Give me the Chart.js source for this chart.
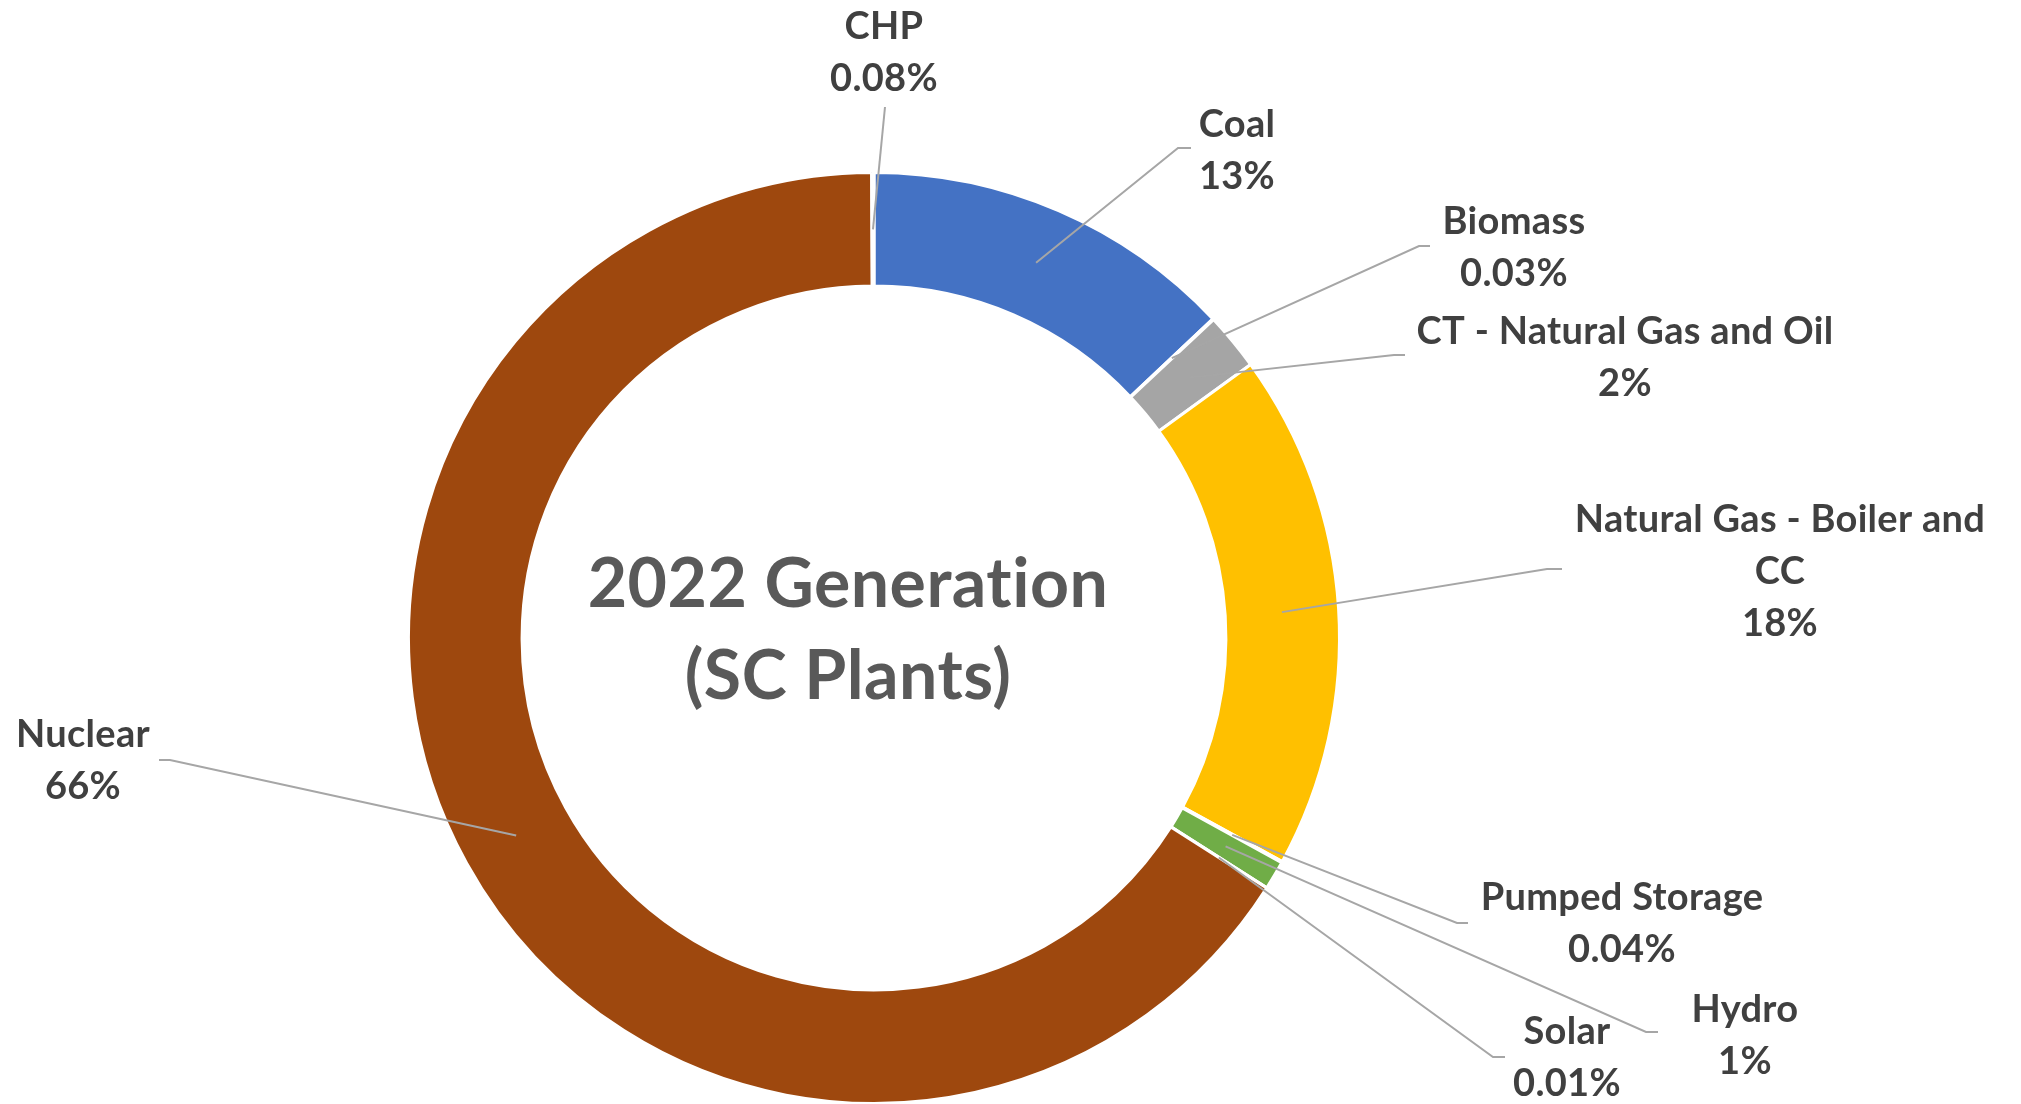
<!DOCTYPE html>
<html>
<head>
<meta charset="utf-8">
<script src="https://cdn.jsdelivr.net/npm/chart.js@4.4.0/dist/chart.umd.min.js"></script>
<style>
  html, body { margin: 0; padding: 0; background: #fff; }
  #wrap { width: 2021px; height: 1104px; position: relative; }
</style>
</head>
<body>
<div id="wrap"><canvas id="genChart"></canvas></div>
<script>
// slice order follows the workbook; CHP is the last sliver just left of 12 o'clock
const categories = ["Coal", "Biomass", "CT - Natural Gas and Oil", "Natural Gas - Boiler and CC",
  "Pumped Storage", "Hydro", "Solar", "Nuclear", "CHP"];
const shares = [13, 0.03, 2, 18, 0.04, 1, 0.01, 66, 0.08];
const sliceColors = ["#4472C4", "#ED7D31", "#A5A5A5", "#FFC000", "#5B9BD5", "#70AD47", "#264478", "#9E480E", "#636363"];
const titleLines = ["2022 Generation", "(SC Plants)"];

// label placement: x/y = centre of first text line, hook = where the leader meets the label,
// elbow = short horizontal stub before the slanted part
const labelLayout = [
  { x: 1237, y: 125, hook: [1191, 148], elbow: [1178, 148] },
  { x: 1514, y: 222, hook: [1430, 246], elbow: [1419, 246] },
  { x: 1625, y: 332, hook: [1405, 355], elbow: [1394, 355] },
  { x: 1780, y: 520, hook: [1562, 569], elbow: [1547, 569], wrap: 440 },
  { x: 1622, y: 898, hook: [1468, 923], elbow: [1457, 923] },
  { x: 1745, y: 1010, hook: [1658, 1032], elbow: [1646, 1032] },
  { x: 1567, y: 1032, hook: [1505, 1057], elbow: [1493, 1057] },
  { x: 83, y: 735, hook: [159, 760], elbow: [170, 760] },
  { x: 884, y: 27, hook: [885, 107] }
];

const FONT = "Lato, 'Open Sans', sans-serif";
const LINE_H = 52;

function pctText(v, total) {
  const p = v / total * 100;
  return (p >= 0.5 ? Math.round(p) : p.toFixed(2)) + "%";
}

function wrapText(ctx, text, maxW) {
  if (!maxW) return [text];
  const words = text.split(" ");
  const lines = [];
  let cur = "";
  words.forEach(w => {
    const test = cur ? cur + " " + w : w;
    if (cur && ctx.measureText(test).width > maxW) {
      lines.push(cur);
      cur = w;
    } else {
      cur = test;
    }
  });
  if (cur) lines.push(cur);
  return lines;
}

const sliceLabels = {
  id: "sliceLabels",
  afterDatasetsDraw(chart) {
    const ctx = chart.ctx;
    const arcs = chart.getDatasetMeta(0).data;
    const total = shares.reduce((a, b) => a + b, 0);
    ctx.save();

    // leader lines
    ctx.strokeStyle = "#A6A6A6";
    ctx.lineWidth = 2;
    arcs.forEach((arc, i) => {
      const p = arc.getProps(["x", "y", "startAngle", "endAngle", "innerRadius", "outerRadius"], true);
      const mid = (p.startAngle + p.endAngle) / 2;
      const r = (p.innerRadius + p.outerRadius) / 2;
      const lay = labelLayout[i];
      ctx.beginPath();
      ctx.moveTo(p.x + Math.cos(mid) * r, p.y + Math.sin(mid) * r);
      if (lay.elbow) ctx.lineTo(lay.elbow[0], lay.elbow[1]);
      ctx.lineTo(lay.hook[0], lay.hook[1]);
      ctx.stroke();
    });

    // data labels
    ctx.fillStyle = "#404040";
    ctx.font = "bold 38px " + FONT;
    ctx.letterSpacing = "0.3px"; // also stops the "ti" ligature
    ctx.textAlign = "center";
    ctx.textBaseline = "middle";
    categories.forEach((name, i) => {
      const lay = labelLayout[i];
      const lines = wrapText(ctx, name, lay.wrap).concat(pctText(shares[i], total));
      lines.forEach((t, k) => ctx.fillText(t, lay.x, lay.y + k * LINE_H));
    });

    // title in the hole
    ctx.fillStyle = "#595959";
    ctx.font = "bold 68px " + FONT;
    ctx.letterSpacing = "0.5px";
    const cx = arcs[0].x - 26;
    ctx.fillText(titleLines[0], cx, 585);
    ctx.fillText(titleLines[1], cx, 677);
    ctx.restore();
  }
};

new Chart(document.getElementById("genChart"), {
  type: "doughnut",
  data: {
    labels: categories,
    datasets: [{
      data: shares,
      backgroundColor: sliceColors,
      borderColor: "#FFFFFF",
      borderWidth: 3
    }]
  },
  options: {
    responsive: true,
    maintainAspectRatio: false,
    animation: false,
    cutout: "75.6%",
    radius: 465.5,
    layout: { padding: { left: 0, right: 273, top: 172, bottom: 0 } },
    plugins: {
      legend: { display: false },
      tooltip: { enabled: false }
    }
  },
  plugins: [sliceLabels]
});
</script>
</body>
</html>
